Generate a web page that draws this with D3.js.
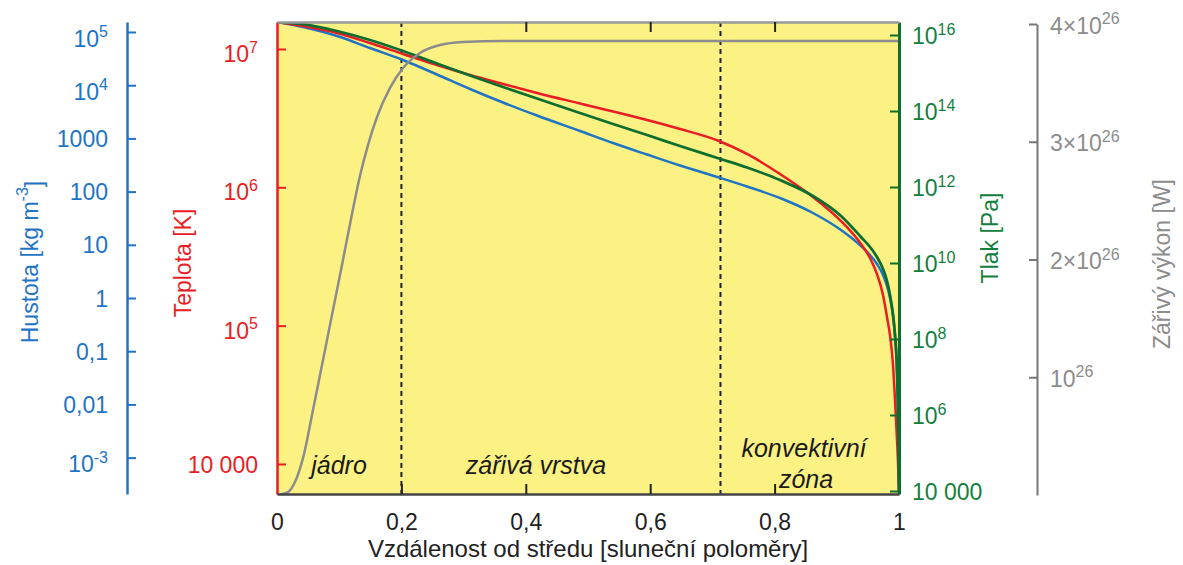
<!doctype html>
<html>
<head>
<meta charset="utf-8">
<title>Slunce</title>
<script src="https://d3js.org/d3.v7.min.js"></script>
<style>
  body { margin: 0; background: #fff; }
  text { font-family: "Liberation Sans", Arial, sans-serif; }
</style>
</head>
<body>
<svg id="chart" width="1183" height="565"></svg>
<script>
// distance from centre [solar radii]
var radius = [0, 0.0418, 0.0965, 0.1495, 0.2026, 0.2572, 0.3103, 0.3633, 0.4180, 0.4871, 0.5402, 0.5949, 0.6479, 0.7106, 0.7556, 0.8087, 0.8617, 0.9068, 0.9389, 0.9534, 0.9646, 0.9743, 0.9807, 0.9855, 0.9904, 0.9936, 0.9968, 0.9984, 1.0];

// log10 of temperature [K]
var logTemp = [7.195, 7.166, 7.116, 7.043, 6.964, 6.884, 6.812, 6.747, 6.682, 6.606, 6.548, 6.487, 6.422, 6.335, 6.241, 6.096, 5.930, 5.756, 5.590, 5.489, 5.373, 5.221, 5.062, 4.932, 4.715, 4.462, 4.173, 4.014, 3.80];

// log10 of pressure [Pa]
var logPres = [16.342, 16.289, 16.105, 15.868, 15.579, 15.25, 14.934, 14.632, 14.329, 13.947, 13.658, 13.368, 13.079, 12.750, 12.513, 12.184, 11.763, 11.237, 10.684, 10.421, 10.158, 9.842, 9.526, 9.158, 8.632, 8.105, 7.184, 6.132, 4.026];

// log10 of density [kg m-3]
var logDens = [5.188, 5.094, 4.925, 4.699, 4.474, 4.201, 3.929, 3.675, 3.430, 3.139, 2.914, 2.697, 2.491, 2.265, 2.096, 1.880, 1.598, 1.278, 0.977, 0.808, 0.639, 0.432, 0.226, 0.0, -0.338, -0.714, -1.391, -2.143, -3.684];

// luminosity [W]
var lumR = [0, 0.0177, 0.0289, 0.0418, 0.0579, 0.0740, 0.0900, 0.1061, 0.1206, 0.1334, 0.1463, 0.1608, 0.1817, 0.2026, 0.2299, 0.2621, 0.2990, 0.3633, 0.5, 1.0];
var lumVal = [0, 0.025, 0.110, 0.313, 0.722, 1.147, 1.571, 1.996, 2.387, 2.710, 2.972, 3.210, 3.457, 3.626, 3.754, 3.822, 3.847, 3.856, 3.856, 3.856].map(function(v) { return v * 1e26; });

// boundaries between zones
var zoneEdges = [0.2, 0.713];

// tick values and labels
var xTicks = [0, 0.2, 0.4, 0.6, 0.8, 1];
var xLabels = ["0", "0,2", "0,4", "0,6", "0,8", "1"];
var densTicks = [1e5, 1e4, 1e3, 100, 10, 1, 0.1, 0.01, 1e-3];
var densLabels = [["10", "5"], ["10", "4"], ["1000"], ["100"], ["10"], ["1"], ["0,1"], ["0,01"], ["10", "-3"]];
var tempTicks = [1e7, 1e6, 1e5, 1e4];
var tempLabels = [["10", "7"], ["10", "6"], ["10", "5"], ["10 000"]];
var presTicks = [1e16, 1e14, 1e12, 1e10, 1e8, 1e6, 1e4];
var presLabels = [["10", "16"], ["10", "14"], ["10", "12"], ["10", "10"], ["10", "8"], ["10", "6"], ["10 000"]];
var lumTicks = [4e26, 3e26, 2e26, 1e26];
var lumLabels = [["4×10", "26"], ["3×10", "26"], ["2×10", "26"], ["10", "26"]];

var blue = "#1f74c4", red = "#ea1c24", green = "#0d6e30", greenTxt = "#12803c", grey = "#8c8c8c";

var svg = d3.select("#chart");
var pLeft = 277, pRight = 899, pTop = 22, pBottom = 494;

var x = d3.scaleLinear().domain([0, 1]).range([pLeft, pRight]);
var yTemp = d3.scaleLog().domain([Math.pow(10, 3.783), Math.pow(10, 7.195)]).range([pBottom, pTop]);
var yPres = d3.scaleLog().domain([Math.pow(10, 3.921), Math.pow(10, 16.342)]).range([pBottom, pTop]);
var yDens = d3.scaleLog().domain([Math.pow(10, -3.684), Math.pow(10, 5.188)]).range([pBottom, pTop]);
var yLum = d3.scaleLinear().domain([0, 4e26]).range([495, 24]);

svg.append("defs").append("clipPath").attr("id", "clip")
  .append("rect").attr("x", pLeft).attr("y", pTop).attr("width", pRight - pLeft).attr("height", pBottom - pTop);

svg.append("rect")
  .attr("x", pLeft).attr("y", pTop)
  .attr("width", pRight - pLeft).attr("height", pBottom - pTop)
  .style("fill", "#fcf183");

// zone boundaries
svg.selectAll("line.zone")
  .data(zoneEdges).enter()
  .append("line")
  .attr("class", "zone")
  .attr("x1", d => x(d)).attr("x2", d => x(d))
  .attr("y1", pTop).attr("y2", pBottom)
  .style("stroke", "#222")
  .style("stroke-width", "2px")
  .style("stroke-dasharray", "5,4");

// zone names
var zoneText = svg.append("g")
  .style("font-style", "italic")
  .style("font-size", "25px")
  .style("fill", "#1a1a1a")
  .attr("text-anchor", "middle");
zoneText.append("text").attr("x", 339).attr("y", 474).text("jádro");
zoneText.append("text").attr("x", 536).attr("y", 474).text("zářivá vrstva");
zoneText.append("text").attr("x", 804).attr("y", 457).text("konvektivní");
zoneText.append("text").attr("x", 806).attr("y", 488).text("zóna");

var plot = svg.append("g").attr("clip-path", "url(#clip)");

function profile(vals, scale) {
  return d3.line()
    .x((d, i) => x(radius[i]))
    .y(d => scale(Math.pow(10, d)))
    .curve(d3.curveMonotoneX)(vals);
}

plot.append("path").attr("d", profile(logDens, yDens))
  .style("fill", "none").style("stroke", blue).style("stroke-width", "2.5px");
plot.append("path").attr("d", profile(logTemp, yTemp))
  .style("fill", "none").style("stroke", red).style("stroke-width", "2.5px");
plot.append("path").attr("d", profile(logPres, yPres))
  .style("fill", "none").style("stroke", green).style("stroke-width", "2.8px");

plot.append("path")
  .attr("d", d3.line()
    .x((d, i) => x(lumR[i]))
    .y(d => yLum(d))
    .curve(d3.curveMonotoneX)(lumVal))
  .style("fill", "none").style("stroke", grey).style("stroke-width", "2.5px");

function setLabels(g, labels, lx, anchor, color, dyExp) {
  g.selectAll(".tick text").each(function(d, i) {
    var t = d3.select(this);
    var parts = labels[i];
    t.text(null)
      .attr("x", lx).attr("dy", parts[1] ? (dyExp || "0.42em") : "0.35em")
      .attr("text-anchor", anchor)
      .style("fill", color).style("font-size", "23px");
    t.append("tspan").text(parts[0]);
    if (parts[1]) {
      t.append("tspan").attr("dy", "-0.6em").style("font-size", "16px").text(parts[1]);
    }
  });
}

function styleAxis(g, color, width) {
  g.select(".domain").style("stroke", color).style("stroke-width", width);
  g.selectAll(".tick line").style("stroke", color).style("stroke-width", "2px");
}

// density axis
var gDens = svg.append("g").attr("transform", "translate(127,0)")
  .call(d3.axisRight(yDens).tickValues(densTicks).tickSize(9).tickSizeOuter(0));
styleAxis(gDens, blue, "2.5px");
setLabels(gDens, densLabels, -19, "end", blue, "0.62em");

// temperature axis
var gTemp = svg.append("g").attr("transform", "translate(" + pLeft + ",0)")
  .call(d3.axisRight(yTemp).tickValues(tempTicks).tickSize(9).tickSizeOuter(0));
styleAxis(gTemp, red, "2.5px");
setLabels(gTemp, tempLabels, -19, "end", red, "0.55em");

// pressure axis
var gPres = svg.append("g").attr("transform", "translate(" + pRight + ",0)")
  .call(d3.axisLeft(yPres).tickValues(presTicks).tickSize(9).tickSizeOuter(0));
styleAxis(gPres, green, "3px");
setLabels(gPres, presLabels, 13, "start", greenTxt, "0.38em");

// luminosity axis
var gLum = svg.append("g").attr("transform", "translate(1037,0)")
  .call(d3.axisLeft(yLum).tickValues(lumTicks).tickSize(8).tickSizeOuter(0));
styleAxis(gLum, "#777", "2px");
setLabels(gLum, lumLabels, 13, "start", grey, "0.4em");

// top border
var gTop = svg.append("g").attr("transform", "translate(0," + pTop + ")")
  .call(d3.axisBottom(x).tickValues([0.4, 0.6, 0.8]).tickSize(10).tickSizeOuter(0).tickFormat(""));
styleAxis(gTop, "#999", "2.5px");
gTop.selectAll(".tick line").style("stroke", "#222");

// x axis
var gX = svg.append("g").attr("transform", "translate(0," + pBottom + ")")
  .call(d3.axisTop(x).tickValues(xTicks).tickSize(10).tickSizeOuter(0));
styleAxis(gX, "#444", "2.5px");
gX.selectAll(".tick line").style("stroke", "#222");
gX.selectAll(".tick").filter(d => d === 0 || d === 1).select("line").remove();
gX.selectAll(".tick text")
  .attr("y", 28).attr("dy", "0.35em")
  .style("font-size", "23px").style("fill", "#222")
  .text((d, i) => xLabels[i]);

// axis titles
function title(txt, sup, cx, cy, color) {
  var t = svg.append("text")
    .attr("transform", "translate(" + cx + "," + cy + ") rotate(-90)")
    .attr("text-anchor", "middle")
    .attr("dy", "0.35em")
    .style("font-size", "23px").style("fill", color);
  t.append("tspan").text(txt);
  if (sup) {
    t.append("tspan").attr("dy", "-0.6em").style("font-size", "16px").text(sup);
    t.append("tspan").attr("dy", "0.6em").text("]");
  }
}
title("Hustota [kg m", "-3", 30, 262, blue);
title("Teplota [K]", null, 183, 263, red);
title("Tlak [Pa]", null, 990, 238, greenTxt);
title("Zářivý výkon [W]", null, 1162, 264, grey);

svg.append("text")
  .attr("x", 588).attr("y", 557)
  .attr("text-anchor", "middle")
  .style("font-size", "24px").style("fill", "#222")
  .text("Vzdálenost od středu [sluneční poloměry]");
</script>
</body>
</html>
